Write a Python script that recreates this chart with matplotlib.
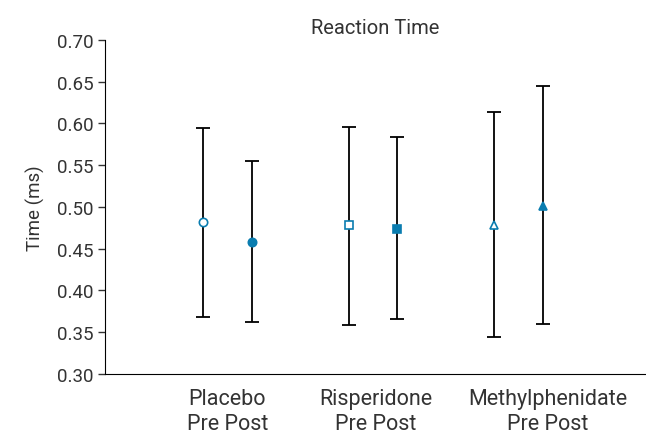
import matplotlib
matplotlib.use("Agg")
import matplotlib.pyplot as plt

# data
groups = ["Placebo", "Risperidone", "Methylphenidate"]
xpos = [0, 1, 3, 4, 6, 7]
means = [0.482, 0.458, 0.478, 0.474, 0.478, 0.501]
upper = [0.595, 0.555, 0.596, 0.584, 0.614, 0.645]
lower = [0.368, 0.362, 0.359, 0.366, 0.344, 0.360]
markers = ["o", "o", "s", "s", "^", "^"]
filled = [False, True, False, True, False, True]

blue = "#0a7db0"
txt = "#333333"
plt.rcParams["font.family"] = ["Roboto", "DejaVu Sans"]

fig = plt.figure(figsize=(6.46, 4.35), dpi=100)
ax = fig.add_axes([0.1625, 0.138, 0.836, 0.768])

for x, m, hi, lo, mk, f in zip(xpos, means, upper, lower, markers, filled):
    ax.errorbar(x, m, yerr=[[m - lo], [hi - m]], fmt="none", ecolor="black",
                elinewidth=1.3, capsize=5, capthick=1.3, zorder=1)
    ax.plot(x, m, marker=mk, markersize=6, linestyle="none",
            markeredgecolor=blue, markerfacecolor=blue if f else "white",
            markeredgewidth=1.2, zorder=2)

ax.set_xlim(-2.02, 9.1)
ax.set_ylim(0.30, 0.70)
ax.set_yticks([0.30, 0.35, 0.40, 0.45, 0.50, 0.55, 0.60, 0.65, 0.70])
ax.set_yticklabels(["%.2f" % v for v in ax.get_yticks()], fontsize=13.5, color=txt)
# group labels (the last one sits a bit right of its pair in the original)
ax.set_xticks([0.5, 3.55, 7.1])
ax.set_xticklabels([g + "\nPre Post" for g in groups], fontsize=15.5, color=txt,
                   linespacing=1.25)
ax.tick_params(axis="x", length=0, pad=10)
ax.tick_params(axis="y", length=5, width=1, color="#333333")
ax.spines["top"].set_visible(False)
ax.spines["right"].set_visible(False)
ax.set_ylabel("Time (ms)", fontsize=13.5, color=txt, labelpad=8)
ax.set_title("Reaction Time", fontsize=14.5, color=txt, pad=5)

fig.savefig("out.png", dpi=100)
